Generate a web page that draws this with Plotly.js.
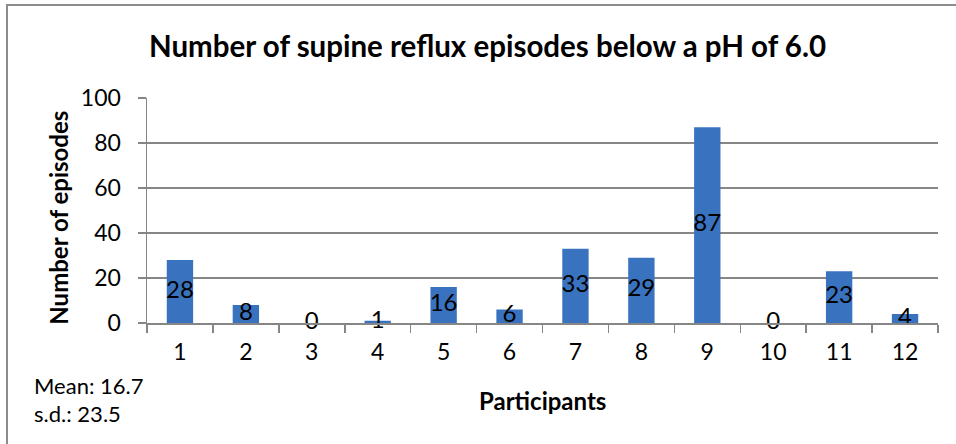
<!DOCTYPE html>
<html>
<head>
<meta charset="utf-8">
<script src="https://cdn.plot.ly/plotly-3.0.1.min.js"></script>
<style>html,body{margin:0;padding:0;background:#fff;}#chart{width:956px;height:444px;}</style>
</head>
<body>
<div id="chart"></div>
<script>
var participants = ["1","2","3","4","5","6","7","8","9","10","11","12"];
var episodes = [28, 8, 0, 1, 16, 6, 33, 29, 87, 0, 23, 4];
var yTicks = [0, 20, 40, 60, 80, 100];
var titleText = "Number of supine reflux episodes below a pH of 6.0";
var yTitle = "Number of episodes";
var xTitle = "Participants";
var statsLines = ["Mean: 16.7", "s.d.: 23.5"];

var FONT = "Lato, 'Open Sans', sans-serif";

var bars = {
  type: "bar",
  x: participants,
  y: episodes,
  width: 0.4,
  marker: {color: "#3973c0", line: {width: 0}},
  hoverinfo: "x+y",
  showlegend: false
};
var labels = {
  type: "scatter",
  mode: "text",
  x: participants,
  y: episodes.map(function(v){ return v / 2; }),
  text: episodes.map(String),
  textposition: "middle center",
  textfont: {family: FONT, size: 24, color: "#000"},
  hoverinfo: "skip",
  showlegend: false,
  cliponaxis: false
};

var layout = {
  width: 956, height: 444,
  margin: {l: 147, r: 18, t: 98, b: 121},
  paper_bgcolor: "#fff", plot_bgcolor: "#fff",
  font: {family: FONT, color: "#000"},
  title: {text: "<b>" + titleText + "</b>", x: 0.51, xref: "container", y: 0.895, yref: "container",
          xanchor: "center", yanchor: "middle", font: {family: FONT, size: 29.5, color: "#000"}},
  xaxis: {
    type: "category",
    range: [-0.5, participants.length - 0.5],
    automargin: false,
    tickson: "boundaries",
    ticks: "outside", ticklen: 8, tickcolor: "#868686", tickwidth: 1.5,
    showline: true, linecolor: "#868686", linewidth: 1.5,
    showgrid: false,
    ticklabelstandoff: 8,
    tickfont: {family: FONT, size: 23, color: "#000"},
    fixedrange: true
  },
  yaxis: {
    range: [0, 100],
    automargin: false,
    tickvals: yTicks,
    ticks: "outside", ticklen: 8, tickcolor: "#868686", tickwidth: 1.5,
    showline: true, linecolor: "#868686", linewidth: 1.5,
    showgrid: true, gridcolor: "#868686", gridwidth: 1.5,
    zeroline: false,
    ticklabelstandoff: 12,
    tickfont: {family: FONT, size: 23, color: "#000"},
    fixedrange: true
  },
  shapes: [{type: "rect", xref: "paper", yref: "paper", x0: -0.177, x1: 1.06, y0: -0.6, y1: 1.413,
            line: {color: "#8c8c8c", width: 2}, fillcolor: "rgba(0,0,0,0)", layer: "below"}],
  annotations: [
    {text: "<b>" + yTitle + "</b>", xref: "paper", yref: "paper", x: -0.112, y: 0.47, xanchor: "center", yanchor: "middle",
     textangle: -90, showarrow: false, font: {family: FONT, size: 24, color: "#000"}},
    {text: "<b>" + xTitle + "</b>", xref: "paper", yref: "paper", x: 0.5, y: -0.345, xanchor: "center", yanchor: "middle",
     showarrow: false, font: {family: FONT, size: 24, color: "#000"}},
    {text: statsLines[0], xref: "paper", yref: "paper", x: -0.1454, y: -0.2756, xanchor: "left", yanchor: "middle",
     showarrow: false, font: {family: FONT, size: 22, color: "#000"}},
    {text: statsLines[1], xref: "paper", yref: "paper", x: -0.1454, y: -0.40, xanchor: "left", yanchor: "middle",
     showarrow: false, font: {family: FONT, size: 22, color: "#000"}}
  ]
};

Plotly.newPlot("chart", [bars, labels], layout, {displayModeBar: false, staticPlot: true});
</script>
</body>
</html>
